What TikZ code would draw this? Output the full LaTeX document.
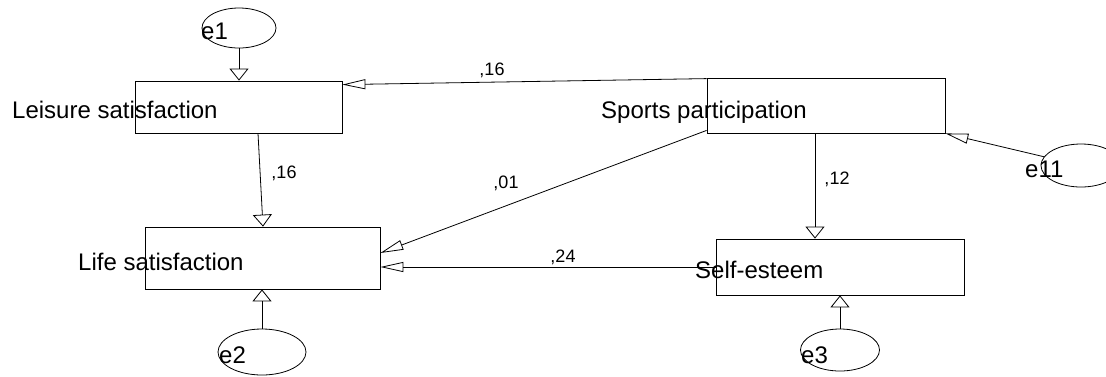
\documentclass[tikz,border=0pt]{standalone}
\usepackage{fontspec}
\setmainfont{Liberation Sans}
\usetikzlibrary{arrows.meta,calc,shapes.geometric}
\begin{document}
\begin{tikzpicture}[x=1pt,y=-1pt,
  var/.style={draw,line width=0.8pt,rectangle,inner sep=0pt},
  err/.style={draw,line width=0.8pt,ellipse,inner sep=0pt},
  txt/.style={inner sep=0pt,anchor=base west,font=\fontsize{24}{28}\selectfont},
  coef/.style={inner sep=0pt,font=\fontsize{18}{21}\selectfont},
  pathv/.style={line width=0.8pt,-{Triangle[open,length=12pt,width=19pt]}},
  pathh/.style={line width=0.8pt,-{Triangle[open,length=23pt,width=10pt]}}]
\useasboundingbox (0,0) rectangle (1106,376);

% observed variables
\node[var,minimum width=207pt,minimum height=52pt] (leis) at (238.5,107) {};
\node[var,minimum width=235pt,minimum height=62pt] (life) at (262.5,258) {};
\node[var,minimum width=238pt,minimum height=55pt] (sp) at (826,105.5) {};
\node[var,minimum width=248pt,minimum height=56pt] (se) at (840,267) {};

% error terms
\node[err,minimum width=74pt,minimum height=40pt] (e1) at (239,28) {};
\node[err,minimum width=88pt,minimum height=46pt] (e2) at (262,352) {};
\node[err,minimum width=79pt,minimum height=42pt] (e3) at (840,350) {};
\node[err,minimum width=80pt,minimum height=43pt] (e11) at (1081,165.5) {};

% variable names
\node[txt] (tleis) at (12,118) {Leisure satisfaction};
\node[txt] (tsp) at (601,118) {Sports participation};
\node[txt] (tlife) at (78,270) {Life satisfaction};
\node[txt] (tse) at (695,278) {Self-esteem};
\node[txt] (te1) at (201,39) {e1};
\node[txt] (te2) at (219,363) {e2};
\node[txt] (te3) at (801,363) {e3};
\node[txt] (te11) at (1025,177) {e11};

% error paths
\draw[pathv] (e1.south) -- (e1.south |- leis.north);
\draw[pathv] (e2.north) -- (e2.north |- life.south);
\draw[pathv] (e3.north) -- (e3.north |- se.south);
\draw[pathh] (e11) -- (sp.south east);

% structural paths
\draw[pathh] ($(sp.north west)+(0,1)$) -- ($(leis.north east)+(0,4)$);
\draw[pathv] ($(leis.south)+(19.5,0)$) -- ($(life.north)+(0.5,0)$);
\draw[pathh] ($(sp.south west)+(0,-3)$) -- ($(life.east)+(0,-5)$);
\draw[pathh] (se.west) -- (life.east |- se.west);
\draw[pathv] ($(sp.south)+(-11,0)$) -- ($(se.north)+(-25,0)$);

% coefficients
\node[coef] (c1) at (492,70) {,16};
\node[coef] (c2) at (284,173) {,16};
\node[coef] (c3) at (506,183) {,01};
\node[coef] (c4) at (563,257) {,24};
\node[coef] (c5) at (837,179) {,12};
\end{tikzpicture}
\end{document}
